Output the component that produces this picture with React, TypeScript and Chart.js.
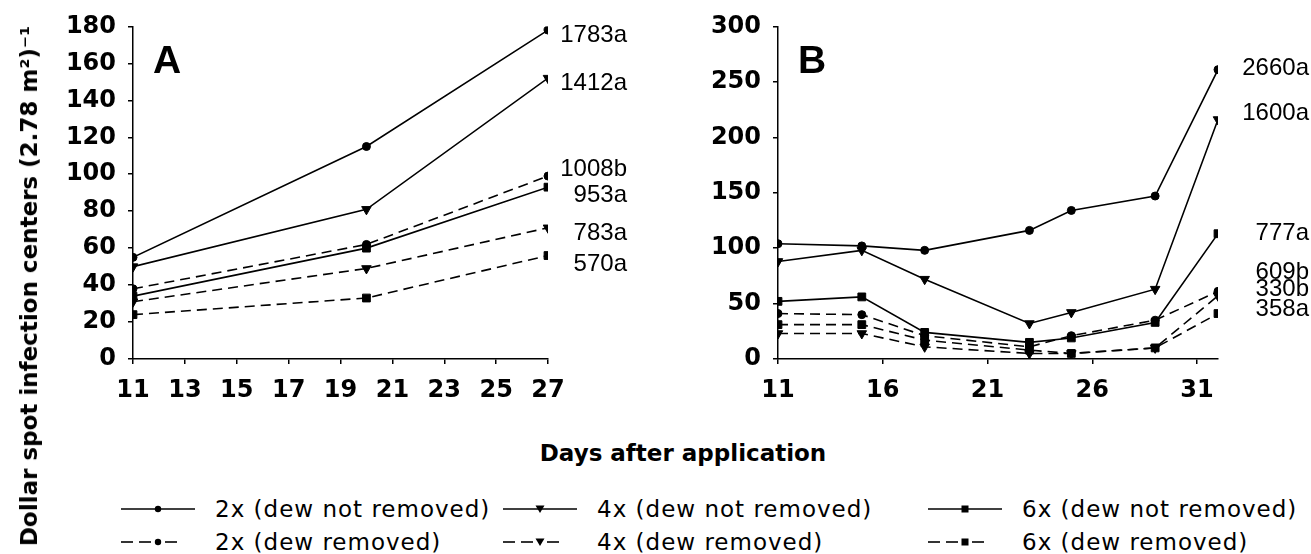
import React, { useEffect, useRef } from "react";
import { Chart, registerables } from "chart.js";
Chart.register(...registerables);

// ---------- data ----------
const seriesNames = [
  "2x (dew not removed)",
  "4x (dew not removed)",
  "6x (dew not removed)",
  "2x (dew removed)",
  "4x (dew removed)",
  "6x (dew removed)",
];

const daysA = [11, 20, 27];
const a2xNR = [55, 115, 178];
const a4xNR = [50, 81, 152];
const a6xNR = [34, 60, 93];
const a2xR = [38, 62, 99];
const a4xR = [31, 49, 71];
const a6xR = [24, 33, 56];
const endLabelsA = ["1783a", "1412a", "953a", "1008b", "783a", "570a"];
const xTicksA = [11, 13, 15, 17, 19, 21, 23, 25, 27];

const daysB = [11, 15, 18, 23, 25, 29, 32];
const b2xNR = [104, 102, 98, 116, 134, 147, 261];
const b4xNR = [88, 98, 72, 32, 42, 63, 216];
const b6xNR = [52, 56, 24, 15, 19, 33, 113];
const b2xR = [41, 40, 21, 11, 21, 35, 61];
const b4xR = [23, 23, 11, 5, 5, 10, 57];
const b6xR = [31, 31, 17, 8, 5, 10, 41];
const endLabelsB = ["2660a", "1600a", "777a", "609b", "330b", "358a"];
const xTicksB = [11, 16, 21, 26, 31];

// ---------- styles ----------
const markerStyles = ["circle", "triangle", "rect", "circle", "triangle", "rect"];
const markerRot = [0, 180, 0, 0, 180, 0];
const markerRadius = [4, 5.5, 5.5, 4, 5.5, 5.5];
const dashed = [false, false, false, true, true, true];

const TICK_FONT = { family: "DejaVu Sans", size: 24, weight: "bold" as const };

function buildDatasets(days: number[], series: number[][]) {
  return series.map((vals, i) => ({
    label: seriesNames[i],
    data: days.map((d, j) => ({ x: d, y: vals[j] })),
    borderColor: "#000",
    backgroundColor: "#000",
    borderWidth: 1.6,
    borderDash: dashed[i] ? [10, 6] : [],
    pointStyle: markerStyles[i],
    pointRotation: markerRot[i],
    pointRadius: markerRadius[i],
    pointBackgroundColor: "#000",
    pointBorderColor: "#000",
    pointBorderWidth: 1,
    tension: 0,
    fill: false,
  }));
}

const endLabelPlugin = {
  id: "endLabels",
  afterDatasetsDraw(chart: any, _args: any, opts: any) {
    const ctx = chart.ctx;
    ctx.save();
    ctx.fillStyle = "#000";
    ctx.font = "24px 'Liberation Sans'";
    ctx.textAlign = "right";
    ctx.textBaseline = "middle";
    chart.data.datasets.forEach((_ds: any, i: number) => {
      const meta = chart.getDatasetMeta(i);
      const pt = meta.data[meta.data.length - 1];
      ctx.fillText(opts.labels[i], pt.x + opts.dx, pt.y + opts.dy[i]);
    });
    ctx.font = "bold 39px 'Liberation Sans'";
    ctx.textAlign = "left";
    ctx.textBaseline = "alphabetic";
    ctx.fillText(opts.letter, chart.chartArea.left + 20, chart.chartArea.top + 47);
    ctx.restore();
  },
};

function makeConfig(
  days: number[],
  series: number[][],
  xMin: number,
  xMax: number,
  xTicks: number[],
  yMax: number,
  yStep: number,
  yWidth: number,
  padRight: number,
  plug: any
): any {
  return {
    type: "line",
    data: { datasets: buildDatasets(days, series) },
    plugins: [endLabelPlugin],
    options: {
      responsive: false,
      animation: false,
      devicePixelRatio: 1,
      layout: { padding: { left: 0, right: padRight, top: 24, bottom: 0 } },
      plugins: {
        legend: { display: false },
        tooltip: { enabled: false },
        endLabels: plug,
      },
      scales: {
        x: {
          type: "linear",
          min: xMin,
          max: xMax,
          afterBuildTicks: (s: any) => {
            s.ticks = xTicks.map((v) => ({ value: v }));
          },
          afterFit: (s: any) => {
            s.height = 61;
          },
          grid: { drawOnChartArea: false, drawTicks: true, tickLength: 5, color: "#000", lineWidth: 1.5 },
          border: { display: true, color: "#000", width: 1.5 },
          ticks: { font: TICK_FONT, color: "#000", padding: 12, maxRotation: 0, autoSkip: false },
        },
        y: {
          type: "linear",
          min: 0,
          max: yMax,
          afterFit: (s: any) => {
            s.width = yWidth;
          },
          grid: { drawOnChartArea: false, drawTicks: true, tickLength: 5, color: "#000", lineWidth: 1.5 },
          border: { display: true, color: "#000", width: 1.5 },
          ticks: { font: TICK_FONT, color: "#000", padding: 12, stepSize: yStep },
        },
      },
    },
  };
}

function LegendSample({ i }: { i: number }) {
  const cy = 8;
  let marker: React.ReactNode = null;
  if (markerStyles[i] === "circle") marker = <circle cx={38} cy={cy} r={3.2} fill="#000" />;
  else if (markerStyles[i] === "triangle")
    marker = <polygon points={`${33.5},${cy - 3.5} ${42.5},${cy - 3.5} 38,${cy + 4}`} fill="#000" />;
  else marker = <rect x={34.5} y={cy - 3.5} width={7} height={7} fill="#000" />;
  return (
    <svg width={76} height={16} style={{ display: "block" }}>
      {dashed[i] ? (
        <>
          <line x1={1} y1={cy} x2={13} y2={cy} stroke="#000" strokeWidth={1.6} />
          <line x1={19} y1={cy} x2={31} y2={cy} stroke="#000" strokeWidth={1.6} />
          <line x1={45} y1={cy} x2={57} y2={cy} stroke="#000" strokeWidth={1.6} />
        </>
      ) : (
        <line x1={1} y1={cy} x2={75} y2={cy} stroke="#000" strokeWidth={1.6} />
      )}
      {marker}
    </svg>
  );
}

export default function App() {
  const refA = useRef<HTMLCanvasElement>(null);
  const refB = useRef<HTMLCanvasElement>(null);

  useEffect(() => {
    const chartA = new Chart(
      refA.current as HTMLCanvasElement,
      makeConfig(daysA, [a2xNR, a4xNR, a6xNR, a2xR, a4xR, a6xR], 11, 27, xTicksA, 180, 20, 133, 112, {
        labels: endLabelsA,
        dx: 79,
        dy: [5, 5, 8, -7, 6, 9],
        letter: "A",
      })
    );
    const chartB = new Chart(
      refB.current as HTMLCanvasElement,
      makeConfig(daysB, [b2xNR, b4xNR, b6xNR, b2xR, b4xR, b6xR], 11, 32, xTicksB, 300, 50, 118, 93, {
        labels: endLabelsB,
        dx: 91,
        dy: [-1, -6, 0, -19, -6, -4],
        letter: "B",
      })
    );
    return () => {
      chartA.destroy();
      chartB.destroy();
    };
  }, []);

  const legendCols = [120, 502, 927];
  const legendRows = [509, 542];

  return (
    <div
      style={{
        position: "fixed",
        left: 0,
        top: 0,
        width: 1311,
        height: 554,
        background: "#fff",
        overflow: "hidden",
      }}
    >
      <canvas
        ref={refA}
        width={660}
        height={420}
        style={{ position: "absolute", left: 0, top: 0, width: 660, height: 420 }}
      />
      <canvas
        ref={refB}
        width={651}
        height={420}
        style={{ position: "absolute", left: 660, top: 0, width: 651, height: 420 }}
      />
      <div
        style={{
          position: "absolute",
          left: 29,
          top: 286,
          transform: "translate(-50%, -50%) rotate(-90deg)",
          whiteSpace: "nowrap",
          font: "bold 23px 'DejaVu Sans'",
          color: "#000",
        }}
      >
        Dollar spot infection centers (2.78 m²)⁻¹
      </div>
      <div
        style={{
          position: "absolute",
          left: 683,
          top: 453,
          transform: "translate(-50%, -50%)",
          whiteSpace: "nowrap",
          font: "bold 23px 'DejaVu Sans'",
          color: "#000",
        }}
      >
        Days after application
      </div>
      {seriesNames.map((name, i) => {
        const col = i % 3;
        const row = Math.floor(i / 3);
        return (
          <div
            key={name}
            style={{
              position: "absolute",
              left: legendCols[col],
              top: legendRows[row],
              transform: "translateY(-50%)",
              display: "flex",
              alignItems: "center",
              whiteSpace: "nowrap",
              font: "23px 'DejaVu Sans'",
              letterSpacing: "1px",
              color: "#000",
            }}
          >
            <LegendSample i={i} />
            <span style={{ marginLeft: 19 }}>{name}</span>
          </div>
        );
      })}
    </div>
  );
}
